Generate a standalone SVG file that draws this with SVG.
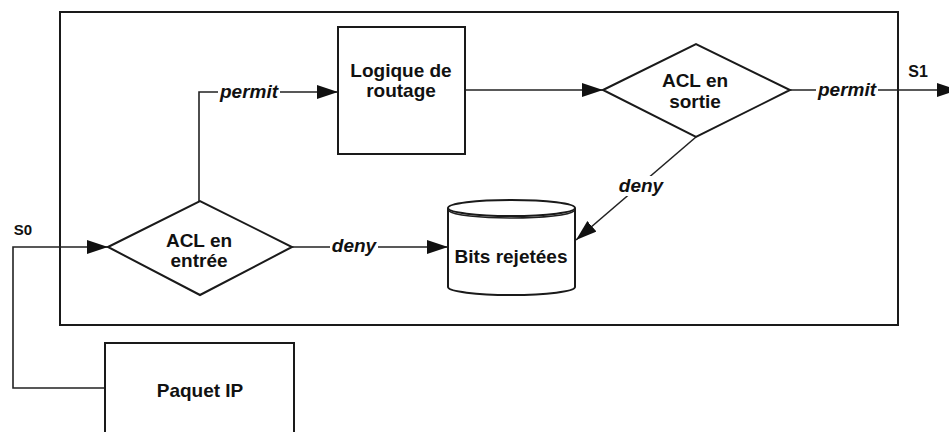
<svg xmlns="http://www.w3.org/2000/svg" width="949" height="432" viewBox="0 0 949 432">
<style>
.sh{fill:#fff;stroke:#1a1a1a;stroke-width:2}
.ln{fill:none;stroke:#222;stroke-width:1.6}
.t{font-family:"Liberation Sans",Arial,sans-serif;font-weight:bold;font-size:19px;fill:#111;text-anchor:middle}
.lb{font-family:"Liberation Sans",Arial,sans-serif;font-weight:bold;font-style:italic;font-size:19px;fill:#111;text-anchor:middle}
.bg{fill:#fff;stroke:none}
</style>
<defs>
<marker id="ah" markerUnits="userSpaceOnUse" markerWidth="22" markerHeight="16" refX="21" refY="7" orient="auto">
<path d="M0,0 L21,7 L0,14 Z" fill="#111"/>
</marker>
</defs>
<rect width="949" height="432" fill="#fff"/>
<g id="frame"><rect x="60" y="12" width="838" height="313" fill="none" stroke="#1a1a1a" stroke-width="2"/></g>
<g id="connectors">
<polyline class="ln" points="105,388 13,388 13,247 108,247" marker-end="url(#ah)"/>
<polyline class="ln" points="199,201 199,92 338,92" marker-end="url(#ah)"/>
<line class="ln" x1="292" y1="247" x2="448" y2="247" marker-end="url(#ah)"/>
<line class="ln" x1="465" y1="90" x2="603" y2="90" marker-end="url(#ah)"/>
<line class="ln" x1="790" y1="90" x2="958" y2="90" marker-end="url(#ah)"/>
<line class="ln" x1="696" y1="137" x2="576" y2="240" marker-end="url(#ah)"/>
<rect class="bg" x="218" y="82" width="62" height="20"/>
<text class="lb" x="249" y="98">permit</text>
<rect class="bg" x="330" y="237" width="48" height="20"/>
<text class="lb" x="354" y="252">deny</text>
<rect class="bg" x="816" y="80" width="62" height="20"/>
<text class="lb" x="847" y="96">permit</text>
<rect class="bg" x="617" y="176" width="48" height="20"/>
<text class="lb" x="641" y="192">deny</text>
<text class="t" x="23" y="235" style="font-size:15px">S0</text>
<text class="t" x="918" y="77" style="font-size:16px">S1</text>
</g>
<g id="routage">
<rect class="sh" x="338" y="27" width="127" height="127"/>
<text class="t" x="401" y="77">Logique de</text>
<text class="t" x="401" y="97">routage</text>
</g>
<g id="acl-entree">
<polygon class="sh" points="108,247 200,201 292,247 200,295"/>
<text class="t" x="199" y="247">ACL en</text>
<text class="t" x="199" y="267">entrée</text>
</g>
<g id="acl-sortie">
<polygon class="sh" points="603,90 696,44 790,90 696,137"/>
<text class="t" x="695" y="87">ACL en</text>
<text class="t" x="695" y="108">sortie</text>
</g>
<g id="bits">
<path class="sh" d="M448,208 L448,287 A63.5,8 0 0 0 575,287 L575,208"/>
<ellipse class="sh" cx="511.5" cy="208" rx="63.5" ry="8"/>
<path class="ln" d="M449,211 A63,8 0 0 0 574,211"/>
<text class="t" x="511" y="263">Bits rejetées</text>
</g>
<g id="paquet">
<rect class="sh" x="105" y="343" width="189" height="100"/>
<text class="t" x="200" y="397">Paquet IP</text>
</g>
</svg>
